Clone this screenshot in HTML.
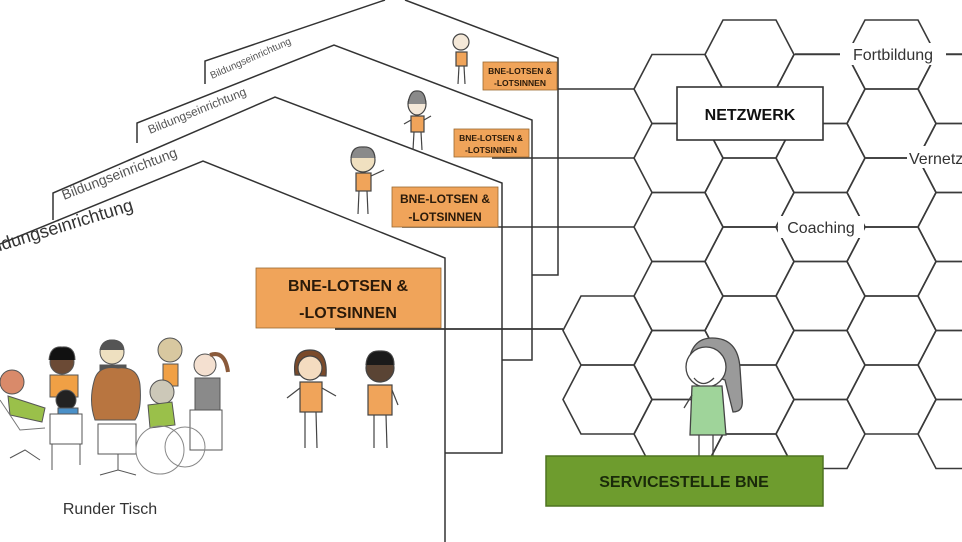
<!DOCTYPE html>
<html><head><meta charset="utf-8"><style>
html,body{margin:0;padding:0;background:#fff;}
svg{display:block;font-family:"Liberation Sans",sans-serif;}
</style></head><body>
<svg width="962" height="542" viewBox="0 0 962 542" xmlns="http://www.w3.org/2000/svg">
<defs>
<polygon id="h" points="-44.5,0 -26.5,-34.5 26.5,-34.5 44.5,0 26.5,34.5 -26.5,34.5" fill="none" stroke="#3a3a3a" stroke-width="1.6"/>
</defs>
<rect width="962" height="542" fill="#fff"/>
<g>
<use href="#h" x="607.5" y="330.5"/><use href="#h" x="607.5" y="399.5"/>
<use href="#h" x="678.5" y="89"/><use href="#h" x="678.5" y="158"/><use href="#h" x="678.5" y="227"/><use href="#h" x="678.5" y="296"/><use href="#h" x="678.5" y="365"/><use href="#h" x="678.5" y="434"/>
<use href="#h" x="749.5" y="54.5"/><use href="#h" x="749.5" y="123.5"/><use href="#h" x="749.5" y="192.5"/><use href="#h" x="749.5" y="261.5"/><use href="#h" x="749.5" y="330.5"/><use href="#h" x="749.5" y="399.5"/><use href="#h" x="749.5" y="468.5"/>
<use href="#h" x="820.5" y="89"/><use href="#h" x="820.5" y="158"/><use href="#h" x="820.5" y="227"/><use href="#h" x="820.5" y="296"/><use href="#h" x="820.5" y="365"/><use href="#h" x="820.5" y="434"/>
<use href="#h" x="891.5" y="54.5"/><use href="#h" x="891.5" y="123.5"/><use href="#h" x="891.5" y="192.5"/><use href="#h" x="891.5" y="261.5"/><use href="#h" x="891.5" y="330.5"/><use href="#h" x="891.5" y="399.5"/>
<use href="#h" x="962.5" y="89"/><use href="#h" x="962.5" y="158"/><use href="#h" x="962.5" y="227"/><use href="#h" x="962.5" y="296"/><use href="#h" x="962.5" y="365"/><use href="#h" x="962.5" y="434"/>
</g>
<line x1="795" y1="54" x2="962" y2="54" stroke="#3a3a3a" stroke-width="1.6"/>
<rect x="840" y="43" width="106" height="22" fill="#fff"/>
<text x="893" y="60" font-size="16" text-anchor="middle" fill="#333">Fortbildung</text>
<line x1="866" y1="158" x2="908" y2="158" stroke="#3a3a3a" stroke-width="1.6"/>
<rect x="907" y="146" width="60" height="22" fill="#fff"/>
<text x="909" y="164" font-size="16" fill="#333">Vernetzung</text>
<line x1="723" y1="227" x2="917" y2="227" stroke="#3a3a3a" stroke-width="1.6"/>
<rect x="778" y="216" width="86" height="22" fill="#fff"/>
<text x="821" y="233" font-size="16" text-anchor="middle" fill="#333">Coaching</text>
<rect x="677" y="87" width="146" height="53" fill="#fff" stroke="#333" stroke-width="1.6"/>
<text x="750" y="120" font-size="16" font-weight="bold" text-anchor="middle" fill="#111">NETZWERK</text>

<g fill="none" stroke="#333" stroke-width="1.5">
<polyline points="205,84 205,61 385,0"/>
<polyline points="405,0 558,58 558,275 532,275"/>
<polyline points="137,143 137,123 334,45 532,120 532,360 502,360"/>
<polyline points="53,220 53,193 275,97 502,183 502,453 445,453"/>
<polyline points="0,244 203,161 445,258 445,542"/>
<line x1="520" y1="89" x2="634" y2="89"/>
<line x1="492" y1="158" x2="634" y2="158"/>
<line x1="402" y1="227" x2="634" y2="227"/>
<line x1="335" y1="329" x2="563" y2="329"/>
</g>
<g fill="#555">
<text font-size="10" transform="translate(212,79) rotate(-24)">Bildungseinrichtung</text>
<text font-size="12" transform="translate(150,134) rotate(-22)">Bildungseinrichtung</text>
<text font-size="14" transform="translate(64,200) rotate(-21)">Bildungseinrichtung</text>
<text font-size="18" transform="translate(-16,256) rotate(-17)" fill="#333">Bildungseinrichtung</text>
</g>
<g stroke="#9a6a30" stroke-width="0.8" fill="#f0a45a">
<rect x="483" y="62" width="74" height="28"/>
<rect x="454" y="129" width="75" height="28"/>
<rect x="392" y="187" width="106" height="40"/>
<rect x="256" y="268" width="185" height="60"/>
</g>
<g font-weight="bold" fill="#2a1a0a" text-anchor="middle">
<text x="520" y="74" font-size="8.5">BNE-LOTSEN &amp;</text><text x="520" y="86" font-size="8.5">-LOTSINNEN</text>
<text x="491" y="141" font-size="8.5">BNE-LOTSEN &amp;</text><text x="491" y="153" font-size="8.5">-LOTSINNEN</text>
<text x="445" y="203" font-size="12">BNE-LOTSEN &amp;</text><text x="445" y="221" font-size="12">-LOTSINNEN</text>
<text x="348" y="291" font-size="16">BNE-LOTSEN &amp;</text><text x="348" y="318" font-size="16">-LOTSINNEN</text>
</g>
<line x1="335" y1="329" x2="563" y2="329" stroke="#333" stroke-width="1.5"/>

<g stroke="#444" stroke-width="1.2">
<circle cx="461" cy="42" r="8" fill="#f4e8d8"/>
<rect x="456" y="52" width="11" height="14" fill="#f0a45a"/>
<line x1="459" y1="66" x2="458" y2="84"/><line x1="464" y1="66" x2="465" y2="84"/>
<ellipse cx="417" cy="104" rx="9" ry="11" fill="#f4e8d8"/>
<path d="M408,104 Q410,90 417,91 Q425,90 426,104" fill="#8a8a8a"/>
<rect x="411" y="116" width="13" height="16" fill="#f0a45a"/>
<line x1="414" y1="132" x2="413" y2="150"/><line x1="421" y1="132" x2="422" y2="150"/>
<line x1="411" y1="120" x2="404" y2="124"/><line x1="424" y1="120" x2="431" y2="116"/>
<circle cx="363" cy="160" r="12" fill="#f0e0c0"/>
<path d="M351,158 Q352,146 363,147 Q374,146 375,158" fill="#8a8a8a"/>
<rect x="356" y="173" width="15" height="18" fill="#f0a45a"/>
<line x1="359" y1="191" x2="358" y2="214"/><line x1="367" y1="191" x2="368" y2="214"/>
<line x1="371" y1="176" x2="384" y2="170"/>
<path d="M295,375 Q292,350 310,350 Q328,350 326,376 Z" fill="#7a4a2a"/>
<circle cx="310" cy="368" r="12" fill="#f4dcc0"/>
<rect x="300" y="382" width="22" height="30" fill="#f0a45a"/>
<line x1="305" y1="412" x2="305" y2="448"/><line x1="316" y1="412" x2="317" y2="448"/>
<line x1="300" y1="388" x2="287" y2="398"/><line x1="322" y1="388" x2="336" y2="396"/>
<circle cx="380" cy="368" r="14" fill="#5a4434"/>
<path d="M366,365 Q367,350 380,351 Q394,350 394,365" fill="#1a1a1a"/>
<rect x="368" y="385" width="24" height="30" fill="#f0a45a"/>
<line x1="374" y1="415" x2="374" y2="448"/><line x1="386" y1="415" x2="387" y2="448"/>
<line x1="392" y1="390" x2="398" y2="405"/>
</g>

<g stroke="#555" stroke-width="1">
<circle cx="12" cy="382" r="12" fill="#d98a6a"/>
<path d="M8,396 L45,408 L42,422 L10,415 Z" fill="#9ac04a"/>
<path d="M0,400 L20,430 L45,428" fill="none" stroke="#777"/>
<rect x="50" y="375" width="28" height="22" fill="#f0a045"/>
<circle cx="62" cy="362" r="12" fill="#6b4a35"/>
<path d="M49,360 Q50,346 62,347 Q75,346 75,360" fill="#111"/>
<circle cx="112" cy="352" r="12" fill="#eee0c0"/>
<path d="M100,350 Q102,340 112,340 Q123,340 124,350" fill="#555"/>
<rect x="100" y="365" width="26" height="15" fill="#555"/>
<circle cx="170" cy="350" r="12" fill="#d8c8a0"/>
<rect x="163" y="364" width="15" height="22" fill="#f0a045"/>
<rect x="195" y="378" width="25" height="38" fill="#8a8a8a"/>
<circle cx="205" cy="365" r="11" fill="#f4e0d0"/>
<path d="M210,355 Q225,350 228,372" fill="none" stroke="#8a5a3a" stroke-width="4"/>
<path d="M95,378 Q100,365 118,368 Q138,366 140,385 Q142,410 135,420 L95,420 Q88,400 95,378 Z" fill="#b87540"/>
<circle cx="162" cy="392" r="12" fill="#ccc8b8"/>
<path d="M148,405 L172,402 L175,425 L150,428 Z" fill="#9ac04a"/>
<circle cx="66" cy="400" r="10" fill="#222"/>
<rect x="58" y="408" width="20" height="12" fill="#4a90c8"/>
<rect x="50" y="414" width="32" height="30" fill="#fff"/>
<line x1="52" y1="444" x2="52" y2="470"/><line x1="80" y1="444" x2="80" y2="465"/>
<rect x="98" y="424" width="38" height="30" fill="#fff"/>
<line x1="118" y1="454" x2="118" y2="470"/>
<path d="M100,475 L118,470 L136,475" fill="none"/>
<rect x="190" y="410" width="32" height="40" fill="#fff"/>
<circle cx="160" cy="450" r="24" fill="none" stroke="#888"/>
<circle cx="185" cy="447" r="20" fill="none" stroke="#888"/>
<path d="M10,458 L25,450 L40,460" fill="none"/>
</g>
<text x="110" y="514" font-size="16" text-anchor="middle" fill="#333">Runder Tisch</text>

<g stroke="#444" stroke-width="1.3">
<path d="M688,368 Q690,338 712,338 Q738,338 740,368 L742,398 Q744,412 733,412 L725,380 Z" fill="#9a9a9a"/>
<circle cx="706" cy="367" r="20" fill="#fff"/>
<path d="M694,378 Q703,389 714,378" fill="#fff"/>
<path d="M692,386 L722,386 L726,435 L690,435 Z" fill="#9fd49a"/>
<line x1="699" y1="435" x2="699" y2="457"/><line x1="713" y1="435" x2="713" y2="457"/>
<line x1="692" y1="395" x2="684" y2="408"/>
</g>
<rect x="546" y="456" width="277" height="50" fill="#6e9c2e" stroke="#4f7420" stroke-width="1.5"/>
<text x="684" y="487" font-size="16" font-weight="bold" text-anchor="middle" fill="#1a2a0a">SERVICESTELLE BNE</text>
</svg>
</body></html>
